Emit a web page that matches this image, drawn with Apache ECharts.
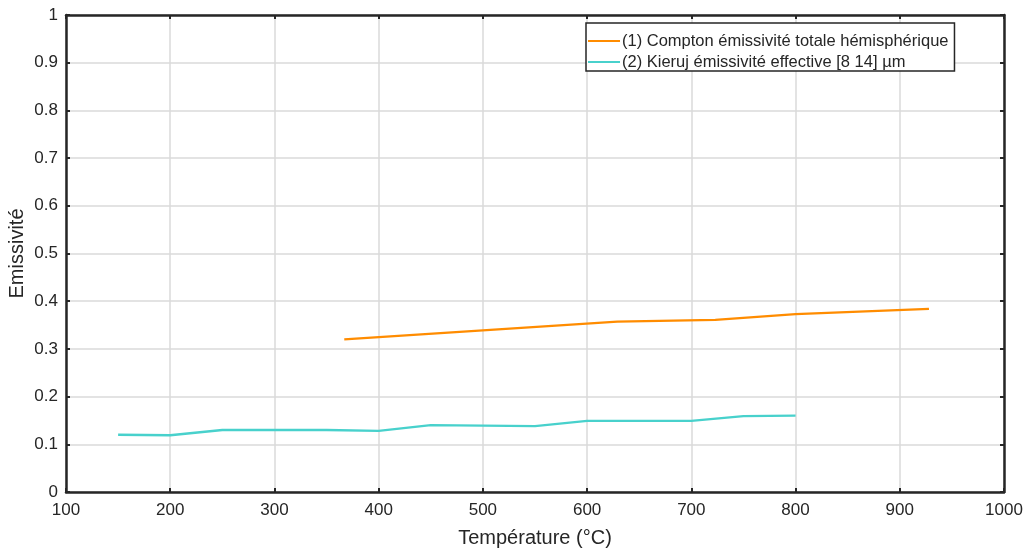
<!DOCTYPE html>
<html>
<head>
<meta charset="utf-8">
<script src="https://cdn.jsdelivr.net/npm/echarts@6/dist/echarts.min.js"></script>
<style>html,body{margin:0;padding:0;background:#fff}#c{width:1027px;height:550px}</style>
</head>
<body>
<div id="c"></div>
<script>
var comptonT = [367, 629, 723, 800, 928];
var comptonE = [0.320, 0.357, 0.361, 0.373, 0.384];
var kierujT = [150, 200, 250, 300, 350, 400, 450, 500, 550, 600, 650, 700, 750, 800];
var kierujE = [0.120, 0.119, 0.130, 0.130, 0.130, 0.128, 0.140, 0.139, 0.138, 0.149, 0.149, 0.149, 0.159, 0.160];
var seriesNames = ['(1) Compton émissivité totale hémisphérique', '(2) Kieruj émissivité effective [8 14] µm'];
var xName = 'Température (°C)';
var yName = 'Emissivité';

function pairs(xs, ys) { return xs.map(function (x, i) { return [x, ys[i]]; }); }

var txt = '#262626';
var font = 'Arial, "Liberation Sans", sans-serif';
var tick = { show: true, inside: true, length: 4, lineStyle: { color: txt, width: 2 } };
var frame = { show: true, onZero: false, lineStyle: { color: txt, width: 2.5 } };
var chart = echarts.init(document.getElementById('c'), null, { renderer: 'canvas' });
chart.setOption({
  animation: false,
  backgroundColor: '#fff',
  textStyle: { fontFamily: font, color: txt },
  grid: { left: 66, right: 23, top: 15, bottom: 58, show: false, containLabel: false, outerBoundsMode: 'none' },
  legend: {
    orient: 'vertical', left: 586, top: 23,
    backgroundColor: '#fff', borderColor: txt, borderWidth: 1.5, borderRadius: 0,
    padding: [9, 6, 0, 2], itemGap: 3, itemWidth: 32, itemHeight: 2, icon: 'rect',
    textStyle: { fontSize: 16.5, lineHeight: 18, color: txt, fontFamily: font, padding: [0, 0, 0, -3] },
    data: seriesNames
  },
  xAxis: [{
    type: 'value', min: 100, max: 1000, interval: 100,
    name: xName, nameLocation: 'middle', nameGap: 36, nameMoveOverlap: false,
    nameTextStyle: { fontSize: 20, color: txt, fontFamily: font },
    axisLine: frame, axisTick: tick,
    axisLabel: { fontSize: 17, color: txt, margin: 10, fontFamily: font, formatter: function (v) { return String(v); } },
    splitLine: { show: true, lineStyle: { color: '#dadada', width: 1.5 } }
  }, {
    type: 'value', min: 100, max: 1000, interval: 100, position: 'top',
    axisLine: frame, axisLabel: { show: false }, splitLine: { show: false }, axisTick: tick
  }],
  yAxis: [{
    type: 'value', min: 0, max: 1, interval: 0.1,
    name: yName, nameLocation: 'middle', nameGap: 39, nameRotate: 90, nameMoveOverlap: false,
    nameTextStyle: { fontSize: 20, color: txt, fontFamily: font },
    axisLine: frame, axisTick: tick,
    axisLabel: { fontSize: 17, color: txt, margin: 8, fontFamily: font, formatter: function (v) { return +v.toFixed(1) + ''; } },
    splitLine: { show: true, lineStyle: { color: '#dadada', width: 1.5 } }
  }, {
    type: 'value', min: 0, max: 1, interval: 0.1, position: 'right',
    axisLine: frame, axisLabel: { show: false }, splitLine: { show: false }, axisTick: tick
  }],
  series: [{
    name: seriesNames[0], type: 'line', data: pairs(comptonT, comptonE),
    symbol: 'none', showSymbol: false, color: '#ff8c00', lineStyle: { width: 2.3, color: '#ff8c00' }, z: 3
  }, {
    name: seriesNames[1], type: 'line', data: pairs(kierujT, kierujE),
    symbol: 'none', showSymbol: false, color: '#48d1cc', lineStyle: { width: 2.3, color: '#48d1cc' }, z: 3
  }]
});
</script>
</body>
</html>
